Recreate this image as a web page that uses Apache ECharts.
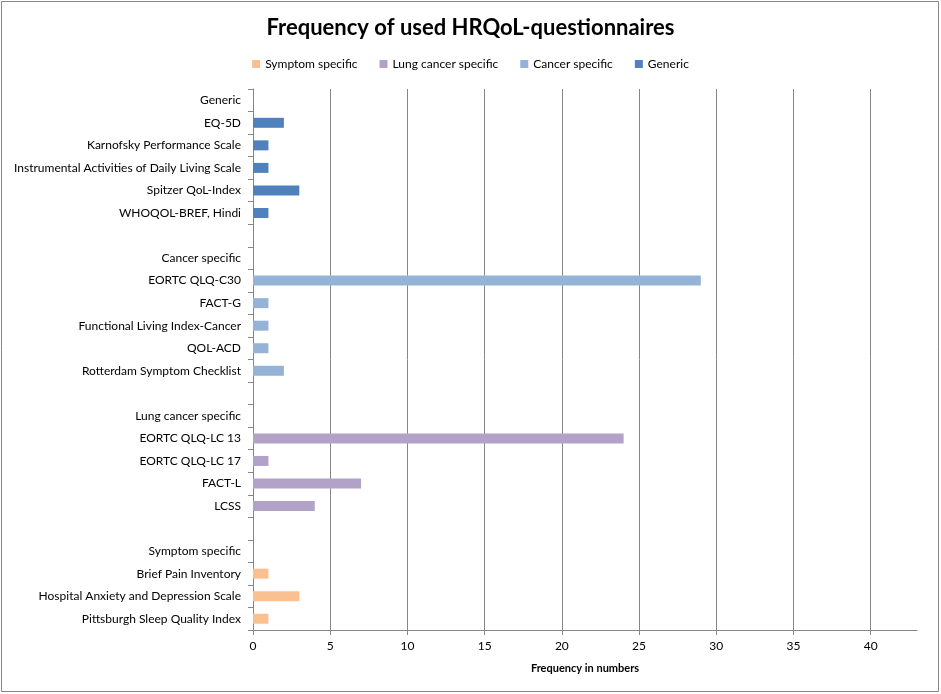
<!DOCTYPE html>
<html>
<head>
<meta charset="utf-8">
<script src="https://cdn.jsdelivr.net/npm/echarts@6/dist/echarts.min.js"></script>
<style>
  html, body { margin: 0; padding: 0; background: #fff; }
  #chart { width: 941px; height: 694px; }
</style>
</head>
<body>
<div id="chart"></div>
<script>
var categories = [
    "Generic", "EQ-5D", "Karnofsky Performance Scale", "Instrumental Activities of Daily Living Scale",
    "Spitzer QoL-Index", "WHOQOL-BREF, Hindi", "",
    "Cancer specific", "EORTC QLQ-C30", "FACT-G", "Functional Living Index-Cancer", "QOL-ACD",
    "Rotterdam Symptom Checklist", " ",
    "Lung cancer specific", "EORTC QLQ-LC 13", "EORTC QLQ-LC 17", "FACT-L", "LCSS", "  ",
    "Symptom specific", "Brief Pain Inventory", "Hospital Anxiety and Depression Scale",
    "Pittsburgh Sleep Quality Index"
];
var genericVals  = ["-", 2, 1, 1, 3, 1, "-", "-", "-", "-", "-", "-", "-", "-", "-", "-", "-", "-", "-", "-", "-", "-", "-", "-"];
var cancerVals   = ["-", "-", "-", "-", "-", "-", "-", "-", 29, 1, 1, 1, 2, "-", "-", "-", "-", "-", "-", "-", "-", "-", "-", "-"];
var lungVals     = ["-", "-", "-", "-", "-", "-", "-", "-", "-", "-", "-", "-", "-", "-", "-", 24, 1, 7, 4, "-", "-", "-", "-", "-"];
var symptomVals  = ["-", "-", "-", "-", "-", "-", "-", "-", "-", "-", "-", "-", "-", "-", "-", "-", "-", "-", "-", "-", "-", 1, 3, 1];
var legendNames = ["Symptom specific", "Lung cancer specific", "Cancer specific", "Generic"];
var colors = { "Symptom specific": "#FAC090", "Lung cancer specific": "#B3A2C7", "Cancer specific": "#95B3D7", "Generic": "#4F81BD" };

var font = "Lato";
var chart = echarts.init(document.getElementById("chart"));

function mkSeries(name, vals) {
    return {
        name: name,
        type: "bar",
        stack: "all",
        data: vals,
        barWidth: 10,
        itemStyle: { color: colors[name] }
    };
}

chart.setOption({
    animation: false,
    title: {
        text: "Frequency of used HRQoL-questionnaires",
        left: "center",
        top: 12,
        textStyle: { fontFamily: font, fontSize: 22, fontWeight: "bold", color: "#000" }
    },
    legend: {
        data: legendNames,
        top: 53,
        left: "center",
        itemWidth: 8,
        itemHeight: 8,
        itemGap: 22,
        icon: "rect",
        textStyle: { fontFamily: font, fontSize: 12, color: "#000" }
    },
    grid: { left: 253, right: 24, top: 89, bottom: 64 },
    xAxis: {
        type: "value",
        min: 0,
        max: 43,
        interval: 5,
        name: "Frequency in numbers",
        nameLocation: "middle",
        nameGap: 33,
        nameTextStyle: { fontFamily: font, fontSize: 11, fontWeight: "bold", color: "#000" },
        axisLine: { show: true, lineStyle: { color: "#868686" } },
        axisTick: { show: true, length: 5, lineStyle: { color: "#868686" } },
        axisLabel: { fontFamily: font, fontSize: 12, color: "#000", margin: 10, showMaxLabel: false },
        splitLine: { show: true, showMaxLine: false, lineStyle: { color: "#868686" } }
    },
    yAxis: {
        type: "category",
        inverse: true,
        data: categories,
        axisLine: { show: true, lineStyle: { color: "#868686" } },
        axisTick: { show: true, length: 5, lineStyle: { color: "#868686" } },
        axisLabel: { fontFamily: font, fontSize: 12, color: "#000", margin: 12 },
        splitLine: { show: false }
    },
    graphic: [{
        type: "rect",
        shape: { x: 1.5, y: 1.5, width: 937, height: 690 },
        style: { fill: null, stroke: "#868686", lineWidth: 1 },
        silent: true
    }],
    series: [
        mkSeries("Generic", genericVals),
        mkSeries("Cancer specific", cancerVals),
        mkSeries("Lung cancer specific", lungVals),
        mkSeries("Symptom specific", symptomVals)
    ]
});
</script>
</body>
</html>
